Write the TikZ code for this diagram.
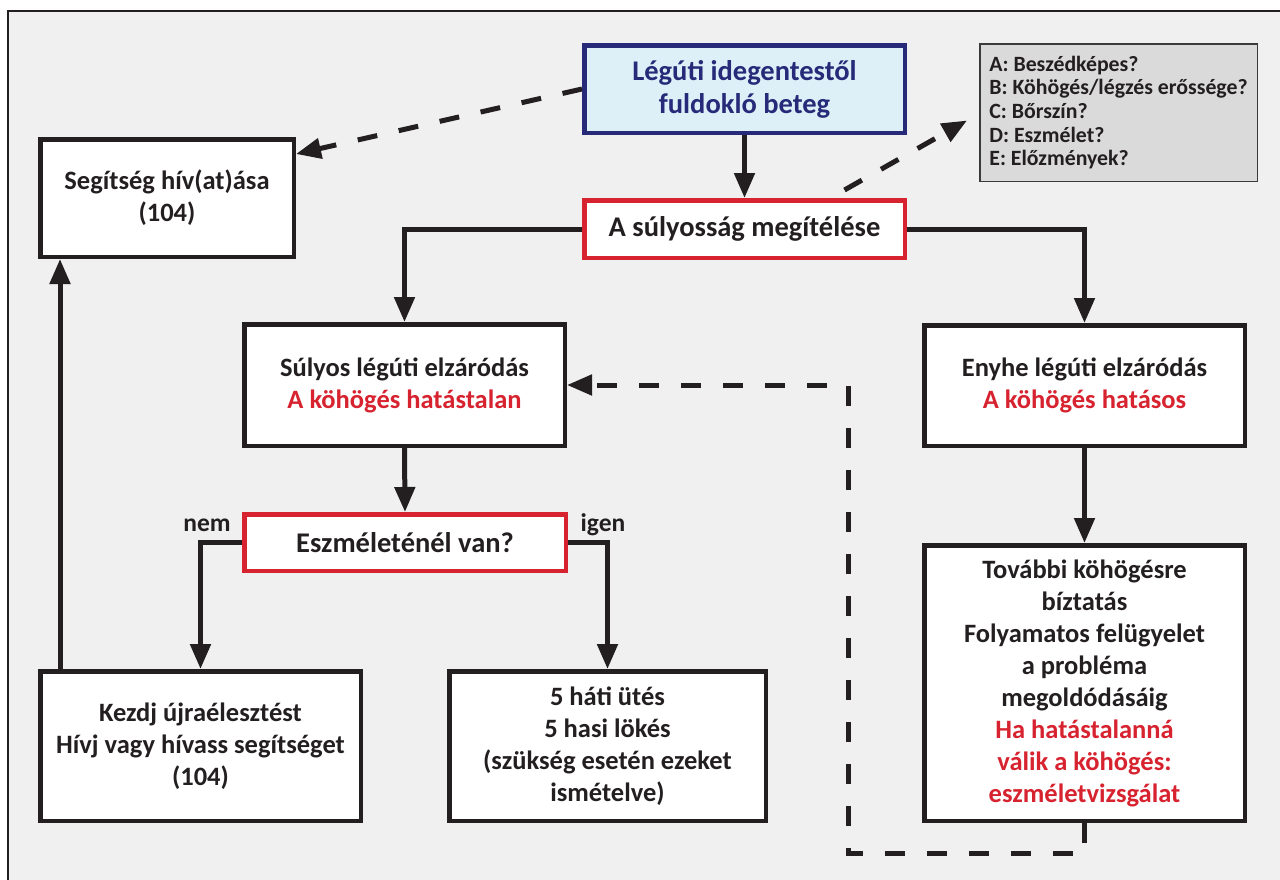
\documentclass[tikz,border=0pt]{standalone}
\usepackage{fontspec}
\setmainfont{Carlito}
\usetikzlibrary{arrows.meta}
\definecolor{txt}{HTML}{231F20}
\definecolor{myred}{HTML}{D7232F}
\definecolor{navy}{HTML}{262A78}
\definecolor{lblue}{HTML}{DDF0F7}
\definecolor{bgc}{HTML}{F0F0F0}
\definecolor{infobg}{HTML}{DADADA}
\definecolor{infoline}{HTML}{3A3A3A}
\begin{document}
\begin{tikzpicture}[x=1pt,y=-1pt,
  box/.style={draw=txt, line width=4.5pt, fill=white, align=center, inner sep=0pt, text=txt,
    font=\fontsize{26.5}{32}\selectfont\bfseries},
  bigtxt/.style={font=\fontsize{28.5}{33}\selectfont\bfseries},
  redbox/.style={box, draw=myred},
  topbox/.style={box, draw=navy, fill=lblue, text=navy},
  infobox/.style={draw=infoline, line width=1.5pt, fill=infobg, align=left, inner sep=0pt, text=txt,
    font=\fontsize{21.8}{23.6}\selectfont\bfseries},
  lbl/.style={text=txt, inner sep=0pt, font=\fontsize{25.5}{30}\selectfont\bfseries},
  arr/.style={draw=txt, line width=5pt, -{Triangle[length=25pt,width=20pt]}},
  darr/.style={arr, dash pattern=on 20pt off 22pt}
]
\path[use as bounding box] (0,0) rectangle (1280,879);
% background frame
\fill[bgc] (8,11) rectangle (1290,890);
\draw[txt, line width=2.5pt] (8,890) -- (8,11) -- (1290,11);

% nodes
\node[topbox, bigtxt, minimum width=320.5pt, minimum height=87.5pt] (top) at (744.5,89)
  {Légúti idegentestől\\fuldokló beteg};
\node[redbox, bigtxt, minimum width=320.5pt, minimum height=57.5pt] (sev) at (744.5,229)
  {A súlyosság megítélése};
\node[box, minimum width=253.5pt, minimum height=117.5pt] (help) at (167,198)
  {Segítség hív(at)ása\\(104)};
\node[infobox, minimum width=277.5pt, minimum height=137.5pt] (info) at (1118.5,112.5)
  {A: Beszédképes?\\B: Köhögés/légzés erőssége?\\C: Bőrszín?\\D: Eszmélet?\\E: Előzmények?};
\node[box, minimum width=320.5pt, minimum height=121.5pt] (severe) at (404.5,385)
  {Súlyos légúti elzáródás\\\textcolor{myred}{A köhögés hatástalan}};
\node[box, minimum width=320.5pt, minimum height=120.5pt] (mild) at (1084.5,385.5)
  {Enyhe légúti elzáródás\\\textcolor{myred}{A köhögés hatásos}};
\node[redbox, bigtxt, minimum width=321.5pt, minimum height=56.5pt] (consc) at (405,542.5)
  {Eszméleténél van?};
\node[box, minimum width=320.5pt, minimum height=149.5pt] (cpr) at (200.5,746)
  {Kezdj újraélesztést\\Hívj vagy hívass segítséget\\(104)};
\node[box, minimum width=316.5pt, minimum height=149.5pt] (blows) at (607.5,746)
  {5 háti ütés\\5 hasi lökés\\(szükség esetén ezeket\\ismételve)};
\node[box, minimum width=320.5pt, minimum height=275.5pt] (further) at (1084.5,683)
  {További köhögésre\\bíztatás\\Folyamatos felügyelet\\a probléma\\megoldódásáig\\
   \textcolor{myred}{Ha hatástalanná}\\\textcolor{myred}{válik a köhögés:}\\\textcolor{myred}{eszméletvizsgálat}};
\node[lbl] (nem) at (207,525) {nem};
\node[lbl] (igen) at (603,525) {igen};

% coordinates
\coordinate (helpin) at ([yshift=-17pt]help.north east);
\coordinate (infoin) at ([xshift=-12pt,yshift=-8pt]info.west);
\coordinate (sevout) at ([xshift=100pt,yshift=8pt]sev.north);
\coordinate (cprup) at ([xshift=22pt]cpr.north west);
\coordinate (dcorner) at (848,853);

% connectors
\draw[arr] (top.south) -- (sev.north);
\draw[arr] (sev.west) -| (severe.north);
\draw[arr] (sev.east) -| (mild.north);
\draw[arr] (severe.south) -- (consc.north);
\draw[arr] (consc.west) -| (cpr.north);
\draw[arr] (consc.east) -| (blows.north);
\draw[arr] (mild.south) -- (further.north);
\draw[arr] (cprup) -- (cprup |- help.south);
\draw[darr] (top.west) -- (helpin);
\draw[darr] (sevout) -- (infoin);
\draw[darr] (further.south) |- (dcorner) |- (severe.east);
\end{tikzpicture}
\end{document}
